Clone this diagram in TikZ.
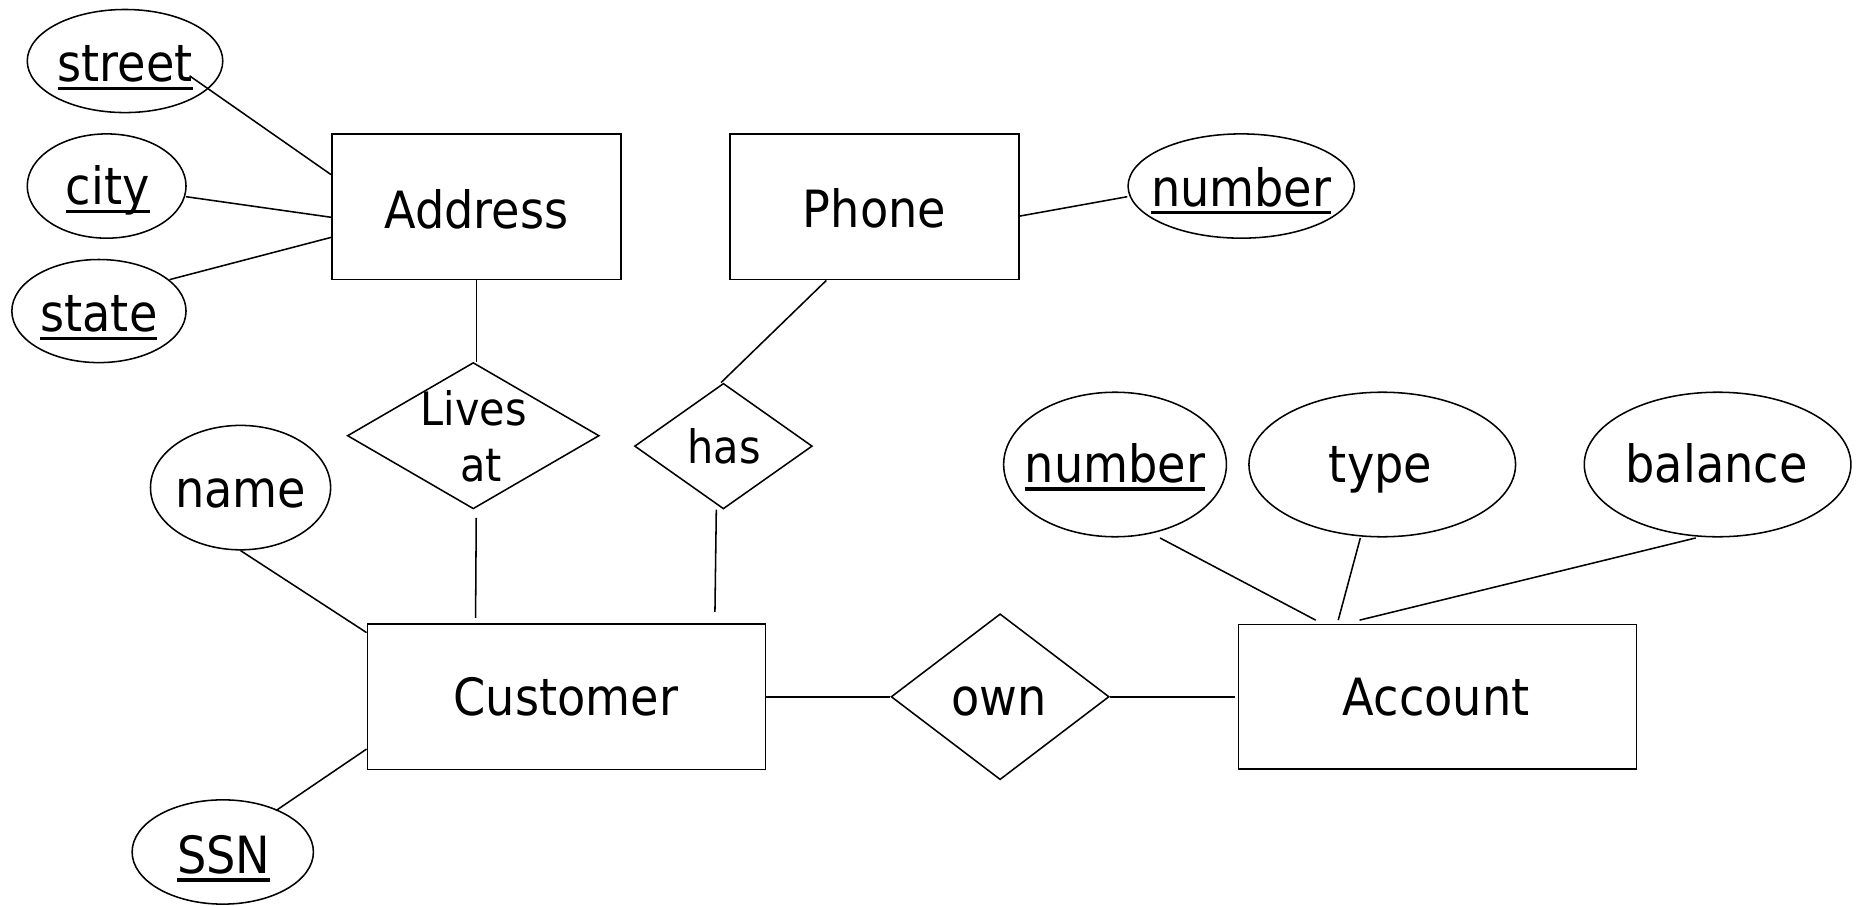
\documentclass[tikz,border=0pt]{standalone}
\usepackage{fontspec}
\setmainfont{DejaVu Sans Condensed}
\usetikzlibrary{shapes.geometric,calc}
\newsavebox\ulbox
\newcommand\ulu[1]{\sbox\ulbox{#1}\rlap{\rule[-7bp]{\wd\ulbox}{3bp}}\usebox\ulbox}
\begin{document}
\begin{tikzpicture}[x=1bp,y=-1bp,line width=1.3bp,
  entity/.style 2 args={draw,rectangle,inner sep=0,minimum width=#1,minimum height=#2},
  attr/.style 2 args={draw,ellipse,inner sep=0,minimum width=#1,minimum height=#2},
  rel/.style 2 args={draw,diamond,inner sep=0,minimum width=#1,minimum height=#2},
  lbl/.style={inner sep=0,anchor=base,font=\fontsize{43.5}{50}\selectfont},
  slbl/.style={inner sep=0,anchor=base,font=\fontsize{39}{45}\selectfont}]
\fill[white] (0,0) rectangle (1568,764);
\useasboundingbox (0,0) rectangle (1568,764);
% entities
\node[entity={244bp}{123bp}] (address) at (402,174.5) {};
\node[entity={244bp}{123bp}] (phone) at (738,174.5) {};
\node[entity={336bp}{123bp}] (customer) at (478,588) {};
\node[entity={336bp}{122bp}] (account) at (1213,588) {};
% attributes
\node[attr={165bp}{87bp}] (street) at (105.5,51.5) {};
\node[attr={134bp}{88bp}] (city) at (90,157) {};
\node[attr={147bp}{87bp}] (state) at (83.5,262.5) {};
\node[attr={191bp}{88bp}] (pnumber) at (1047.5,157) {};
\node[attr={152bp}{105bp}] (name) at (203,411.5) {};
\node[attr={153bp}{88bp}] (ssn) at (188,719) {};
\node[attr={188bp}{122bp}] (anumber) at (941,392) {};
\node[attr={225bp}{122bp}] (type) at (1166.5,392) {};
\node[attr={225bp}{122bp}] (balance) at (1449.5,392) {};
% relationships
\node[rel={212.5bp}{123.5bp}] (livesat) at (399.4,367.7) {};
\node[rel={150bp}{106bp}] (has) at (610.5,376.5) {};
\node[rel={184bp}{140bp}] (own) at (844,588) {};
% texts
\node[lbl] (tstreet) at (105.5,69) {\ulu{street}};
\node[lbl] (tcity) at (91,173) {\ulu{city}};
\node[lbl] (tstate) at (83.5,280) {\ulu{state}};
\node[lbl] (taddress) at (402,193) {Address};
\node[lbl] (tphone) at (738,192) {Phone};
\node[lbl] (tpnumber) at (1047.5,174) {\ulu{number}};
\node[slbl] (tlives) at (400,359) {Lives};
\node[slbl] (tat) at (406,406.5) {at};
\node[slbl] (thas) at (611,391) {has};
\node[lbl] (tname) at (203,428) {name};
\node[lbl] (tssn) at (188.8,737) {\ulu{SSN}};
\node[lbl] (tcustomer) at (477.5,604) {Customer};
\node[lbl] (town) at (843,604) {own};
\node[lbl] (taccount) at (1212,604) {Account};
\node[lbl] (tanumber) at (941,407) {\ulu{number}};
\node[lbl] (ttype) at (1165,407) {type};
\node[lbl] (tbalance) at (1448.6,407) {balance};
% connectors
\draw ($(street.center)+(54.5,12.5)$) -- ($(address.north west)+(0,35)$);
\draw ($(city.center)+(67,9)$) -- ($(address.north west)+(0,71)$);
\draw ($(state.center)+(59.5,-26.5)$) -- ($(address.north west)+(0,88)$);
\draw (address.south) -- (address.south |- livesat.north);
\draw ($(livesat.south)+(2.5,7)$) -- ($(customer.north west)+(92,-4.5)$);
\draw ($(phone.south west)+(82,0)$) -- ($(has.north)+(-2,0)$);
\draw ($(has.south)+(-6,0)$) -- ($(customer.north west)+(294,-9.5)$);
\draw ($(phone.north east)+(0,70)$) -- ($(pnumber.west)+(0,9)$);
\draw (name.south) -- ($(customer.north west)+(0,8)$);
\draw ($(ssn.center)+(45,-35)$) -- ($(customer.south west)+(0,-18)$);
\draw (customer.east) -- (own.west);
\draw (own.east) -- ($(account.west)+(-2,0)$);
\draw ($(anumber.center)+(38,62)$) -- ($(account.north west)+(66,-3)$);
\draw ($(type.center)+(-18.5,62)$) -- ($(account.north west)+(85,-3)$);
\draw ($(balance.center)+(-18.5,62)$) -- ($(account.north west)+(103,-3)$);
\end{tikzpicture}
\end{document}
